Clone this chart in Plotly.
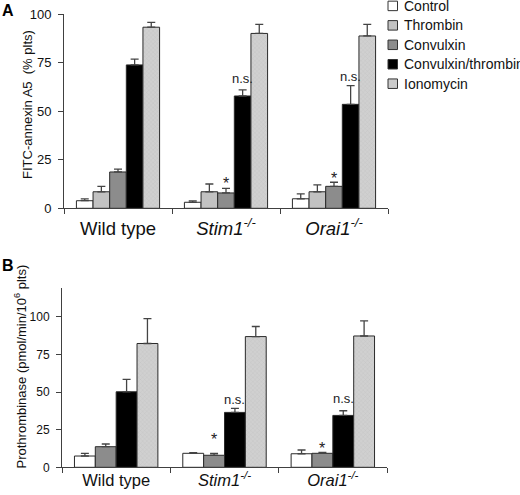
import plotly.graph_objects as go

# ---------------- data ----------------
groups = ["WT", "Stim1", "Orai1"]
group_labels_A = ["Wild type", "<i>Stim1<sup>-/-</sup></i>", "<i>Orai1<sup>-/-</sup></i>"]
group_labels_B = group_labels_A

series_A = ["Control", "Thrombin", "Convulxin", "Convulxin/thrombin", "Ionomycin"]
A_control = [3.9, 3.1, 4.9]
A_control_err = [1.0, 0.7, 2.5]
A_thrombin = [8.5, 8.5, 8.5]
A_thrombin_err = [2.8, 4.0, 3.6]
A_convulxin = [18.7, 7.9, 11.3]
A_convulxin_err = [1.5, 2.4, 2.1]
A_convthr = [73.8, 57.8, 53.5]
A_convthr_err = [3.0, 3.1, 9.6]
A_iono = [93.2, 90.0, 88.7]
A_iono_err = [2.5, 4.7, 6.0]

series_B = ["Control", "Convulxin", "Convulxin/thrombin", "Ionomycin"]
B_control = [7.5, 9.3, 9.0]
B_control_err = [1.8, 0.4, 2.5]
B_convulxin = [13.7, 8.0, 9.3]
B_convulxin_err = [1.8, 1.3, 0.6]
B_convthr = [50.2, 36.5, 34.5]
B_convthr_err = [8.2, 2.7, 3.1]
B_iono = [82.3, 86.9, 87.3]
B_iono_err = [16.6, 6.7, 10.0]

# significance marks: (group, series, text, label height)
sig_A = [("Stim1", "Convulxin", "*", 14.6), ("Stim1", "Convulxin/thrombin", "n.s.", 66),
         ("Orai1", "Convulxin", "*", 17.5), ("Orai1", "Convulxin/thrombin", "n.s.", 67)]
sig_B = [("Stim1", "Convulxin", "*", 21.4), ("Stim1", "Convulxin/thrombin", "n.s.", 43.5),
         ("Orai1", "Convulxin", "*", 15.3), ("Orai1", "Convulxin/thrombin", "n.s.", 44.2)]

yticks_A = [0, 25, 50, 75, 100]
yticks_B = [0, 25, 50, 75, 100]

title_A = "FITC-annexin A5\u00a0\u00a0(% plts)"
title_B = "Prothrombinase (pmol/min/10<sup>6</sup> plts)"

# ---------------- styles ----------------
FONT = "Liberation Sans, Arial, Helvetica, sans-serif"
W, H = 520, 495
AX = "#404040"
styles = {
    "Control": dict(color="white"),
    "Thrombin": dict(color="#c2c2c2"),
    "Convulxin": dict(color="#8c8c8c"),
    "Convulxin/thrombin": dict(color="#000000"),
    "Ionomycin": dict(color="#cbcbcb",
                      pattern=dict(shape="x", size=3, solidity=0.25,
                                   fgcolor="#b4b4b4", bgcolor="#d0d0d0")),
}
BARGAP = 0.23

A_vals = {"Control": (A_control, A_control_err), "Thrombin": (A_thrombin, A_thrombin_err),
          "Convulxin": (A_convulxin, A_convulxin_err),
          "Convulxin/thrombin": (A_convthr, A_convthr_err), "Ionomycin": (A_iono, A_iono_err)}
B_vals = {"Control": (B_control, B_control_err), "Convulxin": (B_convulxin, B_convulxin_err),
          "Convulxin/thrombin": (B_convthr, B_convthr_err), "Ionomycin": (B_iono, B_iono_err)}

fig = go.Figure()

def add_bars(series, vals, xa, ya):
    for s in series:
        v, e = vals[s]
        st = styles[s]
        marker = dict(color=st["color"], line=dict(color="#2a2a2a", width=1))
        if "pattern" in st:
            marker["pattern"] = st["pattern"]
        fig.add_trace(go.Bar(
            x=groups, y=v, name=s, marker=marker, xaxis=xa, yaxis=ya,
            showlegend=False, legendgroup=s,
            error_y=dict(type="data", array=e, arrayminus=[0] * len(e), symmetric=False,
                         color="#444444", thickness=1.3, width=4),
        ))

add_bars(series_A, A_vals, "x", "y")
add_bars(series_B, B_vals, "x2", "y2")

# domains (paper fractions)
xdomA = [64 / W, 388 / W]
ydomA = [1 - 208.3 / H, 1 - 14 / H]
xdomB = [62 / W, 387 / W]
ydomB = [1 - 467.3 / H, 1 - 288.3 / H]

def xaxis(domain, labels, size, anchor, standoff):
    return dict(domain=domain, anchor=anchor, type="category",
                tickvals=groups, ticktext=labels, tickson="boundaries",
                showline=True, linecolor=AX, linewidth=1, ticks="outside",
                ticklen=5, tickcolor=AX, tickwidth=1,
                tickfont=dict(family=FONT, size=size, color="#111"),
                ticklabelstandoff=standoff, showgrid=False, zeroline=False,
                fixedrange=True)

def yaxis(domain, rng, ticks, size, anchor):
    return dict(domain=domain, anchor=anchor, range=rng, tickvals=ticks,
                showline=True, linecolor=AX, linewidth=1, ticks="outside",
                ticklen=5, tickcolor=AX, tickwidth=1,
                tickfont=dict(family=FONT, size=size, color="#111"),
                ticklabelstandoff=4,
                showgrid=False, zeroline=False, fixedrange=True)

annotations = []
shapes = []

def add_sig(sig, series, axis_x, axis_y, xdom):
    n = len(series)
    group_px = (xdom[1] - xdom[0]) * W / len(groups)
    w = group_px * (1 - BARGAP) / n
    for g, s, t, yv in sig:
        i = series.index(s)
        shift = (i - (n - 1) / 2) * w
        star = t == "*"
        annotations.append(dict(
            x=g, y=yv, xref=axis_x, yref=axis_y, text=t, showarrow=False,
            xshift=shift, yshift=-4 if star else 2, yanchor="middle",
            font=dict(family=FONT, size=16 if star else 13, color="#222")))

add_sig(sig_A, series_A, "x", "y", xdomA)
add_sig(sig_B, series_B, "x2", "y2", xdomB)

# legend (drawn as key boxes + labels)
LEG_X, LEG_Y0, LEG_DY, BOX = 388, 5.9, 19.45, 9.5
for i, s in enumerate(series_A):
    cy = LEG_Y0 + i * LEG_DY
    shapes.append(dict(type="rect", xref="paper", yref="paper",
                       x0=LEG_X / W, x1=(LEG_X + BOX) / W,
                       y0=1 - (cy + BOX / 2) / H, y1=1 - (cy - BOX / 2) / H,
                       fillcolor=styles[s]["color"], line=dict(color="#333", width=1)))
    annotations.append(dict(x=(LEG_X + BOX + 4.5) / W, y=1 - cy / H, xref="paper",
                            yref="paper", xanchor="left", yanchor="middle", text=s,
                            showarrow=False,
                            font=dict(family=FONT, size=14, color="#111")))

# panel letters
annotations.append(dict(x=0, y=1, xref="paper", yref="paper", xanchor="left",
                        yanchor="top", text="<b>A</b>", showarrow=False,
                        font=dict(family=FONT, size=16, color="#000")))
annotations.append(dict(x=0, y=1 - 255 / H, xref="paper", yref="paper", xanchor="left",
                        yanchor="top", text="<b>B</b>", showarrow=False,
                        font=dict(family=FONT, size=16, color="#000")))
# y-axis titles
annotations.append(dict(x=27 / W, y=1 - 105 / H, xref="paper", yref="paper",
                        xanchor="center", yanchor="middle", textangle=-90,
                        text=title_A, showarrow=False,
                        font=dict(family=FONT, size=13, color="#111")))
annotations.append(dict(x=20 / W, y=1 - 366.5 / H, xref="paper", yref="paper",
                        xanchor="center", yanchor="middle", textangle=-90,
                        text=title_B, showarrow=False,
                        font=dict(family=FONT, size=13, color="#111")))

fig.update_layout(
    width=W, height=H,
    margin=dict(l=0, r=0, t=0, b=0, pad=0, autoexpand=False),
    paper_bgcolor="white", plot_bgcolor="white",
    barmode="group", bargap=BARGAP, bargroupgap=0,
    font=dict(family=FONT, color="#111"),
    xaxis=xaxis(xdomA, group_labels_A, 18.5, "y", 3),
    yaxis=yaxis(ydomA, [0, 100], yticks_A, 13, "x"),
    xaxis2=xaxis(xdomB, group_labels_B, 16.5, "y2", -2),
    yaxis2=yaxis(ydomB, [0, 119], yticks_B, 12, "x2"),
    annotations=annotations,
    shapes=shapes,
    showlegend=False,
)

fig.write_html("out.html", config={"displayModeBar": False},
               post_script="document.body.style.margin='0';document.body.style.overflow='hidden';")
